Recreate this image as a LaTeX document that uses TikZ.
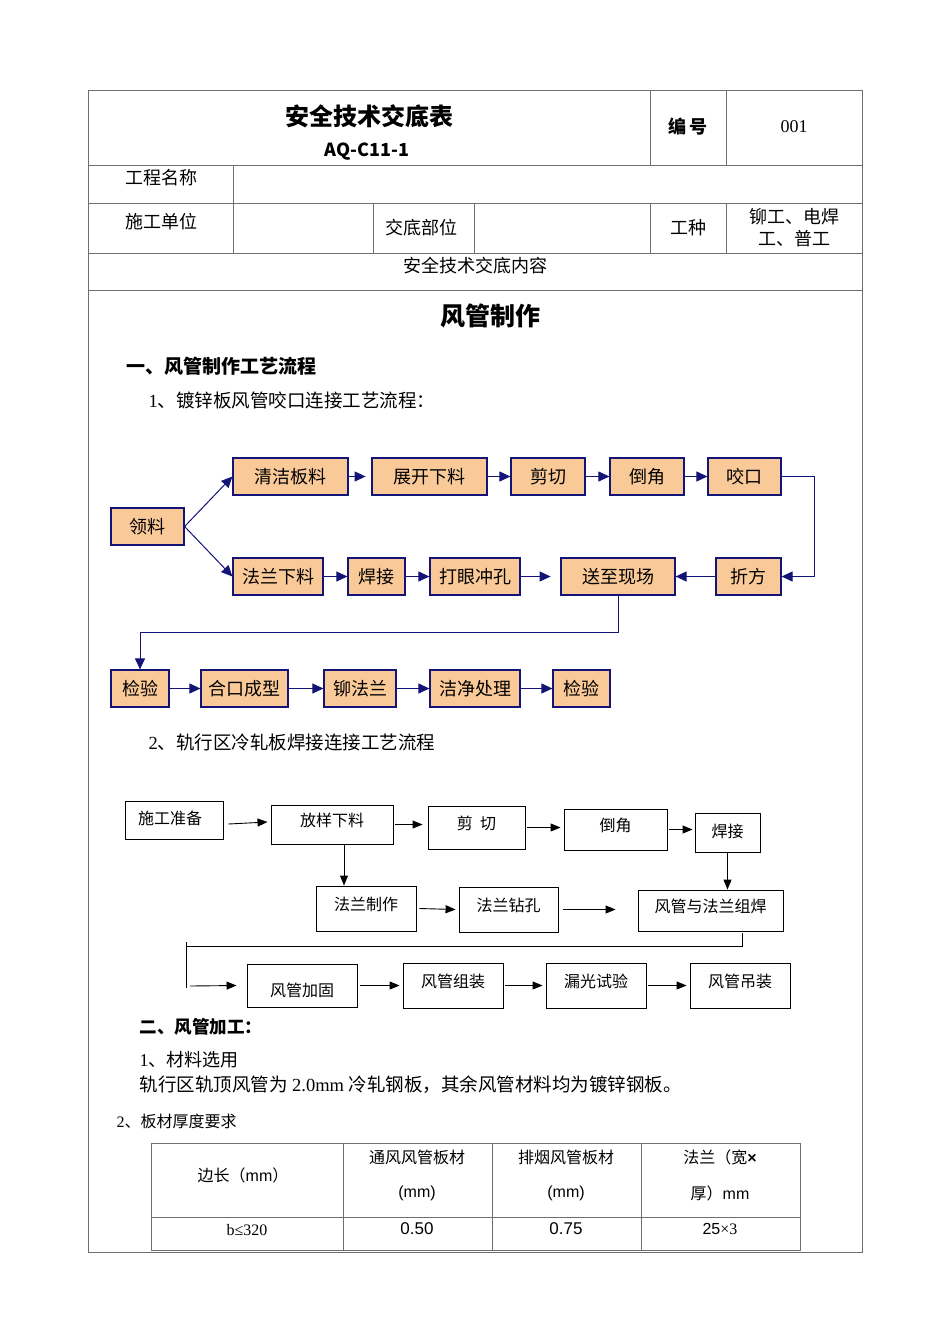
\documentclass[tikz,border=0pt]{standalone}
\usepackage{fontspec}
\setmainfont{Liberation Serif}
\newfontfamily\cjk{Noto Sans CJK SC}
\newfontfamily\ars{Liberation Sans}
\usetikzlibrary{arrows.meta}
\definecolor{navyline}{RGB}{20,20,120}
\definecolor{boxfill}{RGB}{250,201,152}
\definecolor{rulegray}{RGB}{110,110,110}
\newcommand\fsz[1]{\fontsize{#1}{#1}\selectfont}

\begin{document}
\begin{tikzpicture}[x=1pt,y=-1pt,
  ob/.style={draw=navyline,fill=boxfill,line width=1.2pt,minimum height=37,
    inner sep=0pt,font=\cjk\fsz{18}},
  wb/.style={draw,line width=0.9pt,inner sep=0pt},
  lt/.style={font=\cjk\fsz{16},yshift=4pt},
  fa/.style={-{Triangle[length=11pt,width=10pt]},draw=navyline,line width=1pt},
  ba/.style={-{Triangle[length=10pt,width=8pt]},line width=0.9pt},
  tx/.style={font=\cjk\fsz{18}},
  grid/.style={draw=rulegray,line width=1pt}]
  \useasboundingbox (0,0) rectangle (950,1344);
  % ---------------- header table ----------------
  \draw[grid] (88,90) rectangle (862,1252);
  \foreach \y in {165,203,253,290} \draw[grid] (88,\y) -- (862,\y);
  \draw[grid] (650,90) -- (650,165) (726,90) -- (726,165);
  \draw[grid] (233,165) -- (233,253);
  \foreach \x in {373,474,650,726} \draw[grid] (\x,203) -- (\x,253);
  \node[font=\cjk\bfseries\fsz{24}] (ttl) at (369,116) {安全技术交底表};
  \node[font=\cjk\bfseries\fsz{18}] (code) at (367,152) {AQ-C11-1};
  \node[font=\cjk\bfseries\fsz{18}] (bh) at (688,127) {编\,号};
  \node[font=\fsz{18}] (num) at (794,127) {001};
  \node[tx] (gcmc) at (161,178) {工程名称};
  \node[tx] (sgdw) at (161,222) {施工单位};
  \node[tx] (jdbw) at (421,228) {交底部位};
  \node[tx] (gz) at (688,228) {工种};
  \node[tx,align=center] (gzv) at (794,228) {铆工、电焊\\[4pt]工、普工};
  \node[tx] (nr) at (475,266) {安全技术交底内容};
  % ---------------- headings ----------------
  \node[font=\cjk\bfseries\fsz{25}] (fgzz) at (490,316) {风管制作};
  \node[font=\cjk\bfseries\fsz{19},anchor=west] (h1) at (123,366) {一、风管制作工艺流程};
  \node[font=\cjk\fsz{18.5},anchor=west] (s1) at (145,400) {{\rmfamily 1}、镀锌板风管咬口连接工艺流程：};
  % ---------------- flow 1 ----------------
  \node[ob,minimum width=73] (ll) at (147.5,526.5) {领料};
  \node[ob,minimum width=115] (qj) at (290.5,476.5) {清洁板料};
  \node[ob,minimum width=115] (zk) at (429.5,476.5) {展开下料};
  \node[ob,minimum width=74] (jq) at (548,476.5) {剪切};
  \node[ob,minimum width=74] (dj) at (647,476.5) {倒角};
  \node[ob,minimum width=73] (yk) at (744.5,476.5) {咬口};
  \node[ob,minimum width=90] (fl) at (278,576.5) {法兰下料};
  \node[ob,minimum width=57] (hj) at (376.5,576.5) {焊接};
  \node[ob,minimum width=90] (dy) at (475,576.5) {打眼冲孔};
  \node[ob,minimum width=114] (sz) at (618,576.5) {送至现场};
  \node[ob,minimum width=65] (zf) at (748.5,576.5) {折方};
  \node[ob,minimum width=58] (jy1) at (140,688.5) {检验};
  \node[ob,minimum width=87] (hk) at (244.5,688.5) {合口成型};
  \node[ob,minimum width=72] (mf) at (360,688.5) {铆法兰};
  \node[ob,minimum width=90] (jj) at (475,688.5) {洁净处理};
  \node[ob,minimum width=57] (jy2) at (581.5,688.5) {检验};
  \draw[fa] (ll.east) -- (qj.west);
  \draw[fa] (ll.east) -- (fl.west);
  \draw[fa] (qj.east) -- ++(17,0);
  \draw[fa] (zk) -- (jq);
  \draw[fa] (jq) -- (dj);
  \draw[fa] (dj) -- (yk);
  \draw[fa] (yk.east) -- ++(33,0) |- (zf.east);
  \draw[fa] (zf) -- (sz);
  \draw[fa] (fl) -- (hj);
  \draw[fa] (hj) -- (dy);
  \draw[fa] (dy.east) -- ++(30,0);
  \draw[fa] (sz.south) -- ++(0,37) -| (jy1.north);
  \draw[fa] (jy1) -- (hk);
  \draw[fa] (hk) -- (mf);
  \draw[fa] (mf) -- (jj);
  \draw[fa] (jj) -- (jy2);
  % ---------------- flow 2 ----------------
  \node[font=\cjk\fsz{18.5},anchor=west] (s2) at (145,742) {{\rmfamily 2}、轨行区冷轧板焊接连接工艺流程};
  \node[wb,minimum width=98,minimum height=38,label={[lt,yshift=-2pt,xshift=-4pt]center:施工准备}] (sg) at (174,820) {};
  \node[wb,minimum width=122,minimum height=39,label={[lt]center:放样下料}] (fy) at (332,824.5) {};
  \node[wb,minimum width=97,minimum height=43,label={[lt]center:剪\ \ 切}] (jq2) at (476.5,827.5) {};
  \node[wb,minimum width=103,minimum height=41,label={[lt]center:倒角}] (dj2) at (615.5,829.5) {};
  \node[wb,minimum width=65,minimum height=39,label={[lt,yshift=-3pt]center:焊接}] (hj2) at (727.5,832.5) {};
  \node[wb,minimum width=100,minimum height=45,label={[lt]center:法兰制作}] (fz) at (366,908.5) {};
  \node[wb,minimum width=99,minimum height=45,label={[lt]center:法兰钻孔}] (fk) at (508.5,909.5) {};
  \node[wb,minimum width=145,minimum height=41,label={[lt]center:风管与法兰组焊}] (zh) at (710.5,910.5) {};
  \node[wb,minimum width=110,minimum height=43,label={[lt,yshift=-9pt]center:风管加固}] (jg) at (302,985.5) {};
  \node[wb,minimum width=100,minimum height=45,label={[lt]center:风管组装}] (zz) at (453,985.5) {};
  \node[wb,minimum width=100,minimum height=45,label={[lt]center:漏光试验}] (lg) at (596,985.5) {};
  \node[wb,minimum width=100,minimum height=45,label={[lt]center:风管吊装}] (dz) at (740,985.5) {};
  \draw[ba] ([shift={(5,4)}]sg.east) -- ([shift={(-3,-2.5)}]fy.west);
  \draw[ba] ([xshift=2]fy.east) -- ([xshift=-5]fy.east -| jq2.west);
  \draw[ba] ([xshift=2]jq2.east) -- ([xshift=-3]jq2.east -| dj2.west);
  \draw[ba] ([xshift=2]dj2.east) -- ([xshift=-2]dj2.east -| hj2.west);
  \draw[ba] (hj2.south) -- (hj2.south |- zh.north);
  \draw[ba] ([xshift=12]fy.south) -- ([xshift=12]fy.south |- fz.north);
  \draw[ba] ([xshift=3]fz.east) -- ([xshift=-3]fk.west);
  \draw[ba] ([xshift=5]fk.east) -- ([xshift=-22]fk.east -| zh.west);
  \coordinate (tl) at (186,946);
  \draw[line width=0.9pt] ([shift={(32,2)}]zh.south) |- (tl);
  \draw[line width=0.9pt] ([yshift=4]tl) -- ++(0,46);
  \draw[ba] ([shift={(4,40)}]tl) -- ([xshift=-10]jg.west);
  \draw[ba] ([xshift=3]jg.east) -- ([xshift=-3]zz.west);
  \draw[ba] ([xshift=2]zz.east) -- ([xshift=-3]lg.west);
  \draw[ba] ([xshift=2]lg.east) -- ([xshift=-3]dz.west);
  % ---------------- part two ----------------
  \node[font=\cjk\bfseries\fsz{17.5},anchor=west] (h2) at (136,1027) {二、风管加工：};
  \node[font=\cjk\fsz{18},anchor=west] (c1) at (136,1060) {{\rmfamily 1}、材料选用};
  \node[font=\cjk\fsz{18.5},anchor=west] (c2) at (136,1085) {轨行区轨顶风管为{\rmfamily\ 2.0mm }冷轧钢板，其余风管材料均为镀锌钢板。};
  \node[font=\cjk\fsz{16},anchor=west] (c3) at (113,1121) {{\rmfamily 2}、板材厚度要求};
  % ---------------- thickness table ----------------
  \draw[grid] (151,1143) rectangle (800,1250);
  \draw[grid] (151,1217) -- (800,1217);
  \foreach \x in {343,492,641} \draw[grid] (\x,1143) -- (\x,1250);
  \node[font=\cjk\fsz{16}] (t1) at (243,1175) {边长（{\ars mm}）};
  \node[font=\cjk\fsz{16}] (t2) at (417,1157) {通风风管板材};
  \node[font=\ars\fsz{16}] (t2u) at (417,1193) {(mm)};
  \node[font=\cjk\fsz{16}] (t3) at (566,1157) {排烟风管板材};
  \node[font=\ars\fsz{16}] (t3u) at (566,1193) {(mm)};
  \node[font=\cjk\fsz{16}] (t4) at (720,1157) {法兰（宽{\ars\bfseries ×}};
  \node[font=\cjk\fsz{16}] (t4u) at (720,1193) {厚）{\ars mm}};
  \node[font=\fsz{16}] (v1) at (247,1230) {b≤320};
  \node[font=\ars\fsz{17}] (v2) at (417,1229) {0.50};
  \node[font=\ars\fsz{17}] (v3) at (566,1229) {0.75};
  \node[font=\fsz{16}] (v4) at (720,1229) {{\ars 25}×3};
\end{tikzpicture}
\end{document}
